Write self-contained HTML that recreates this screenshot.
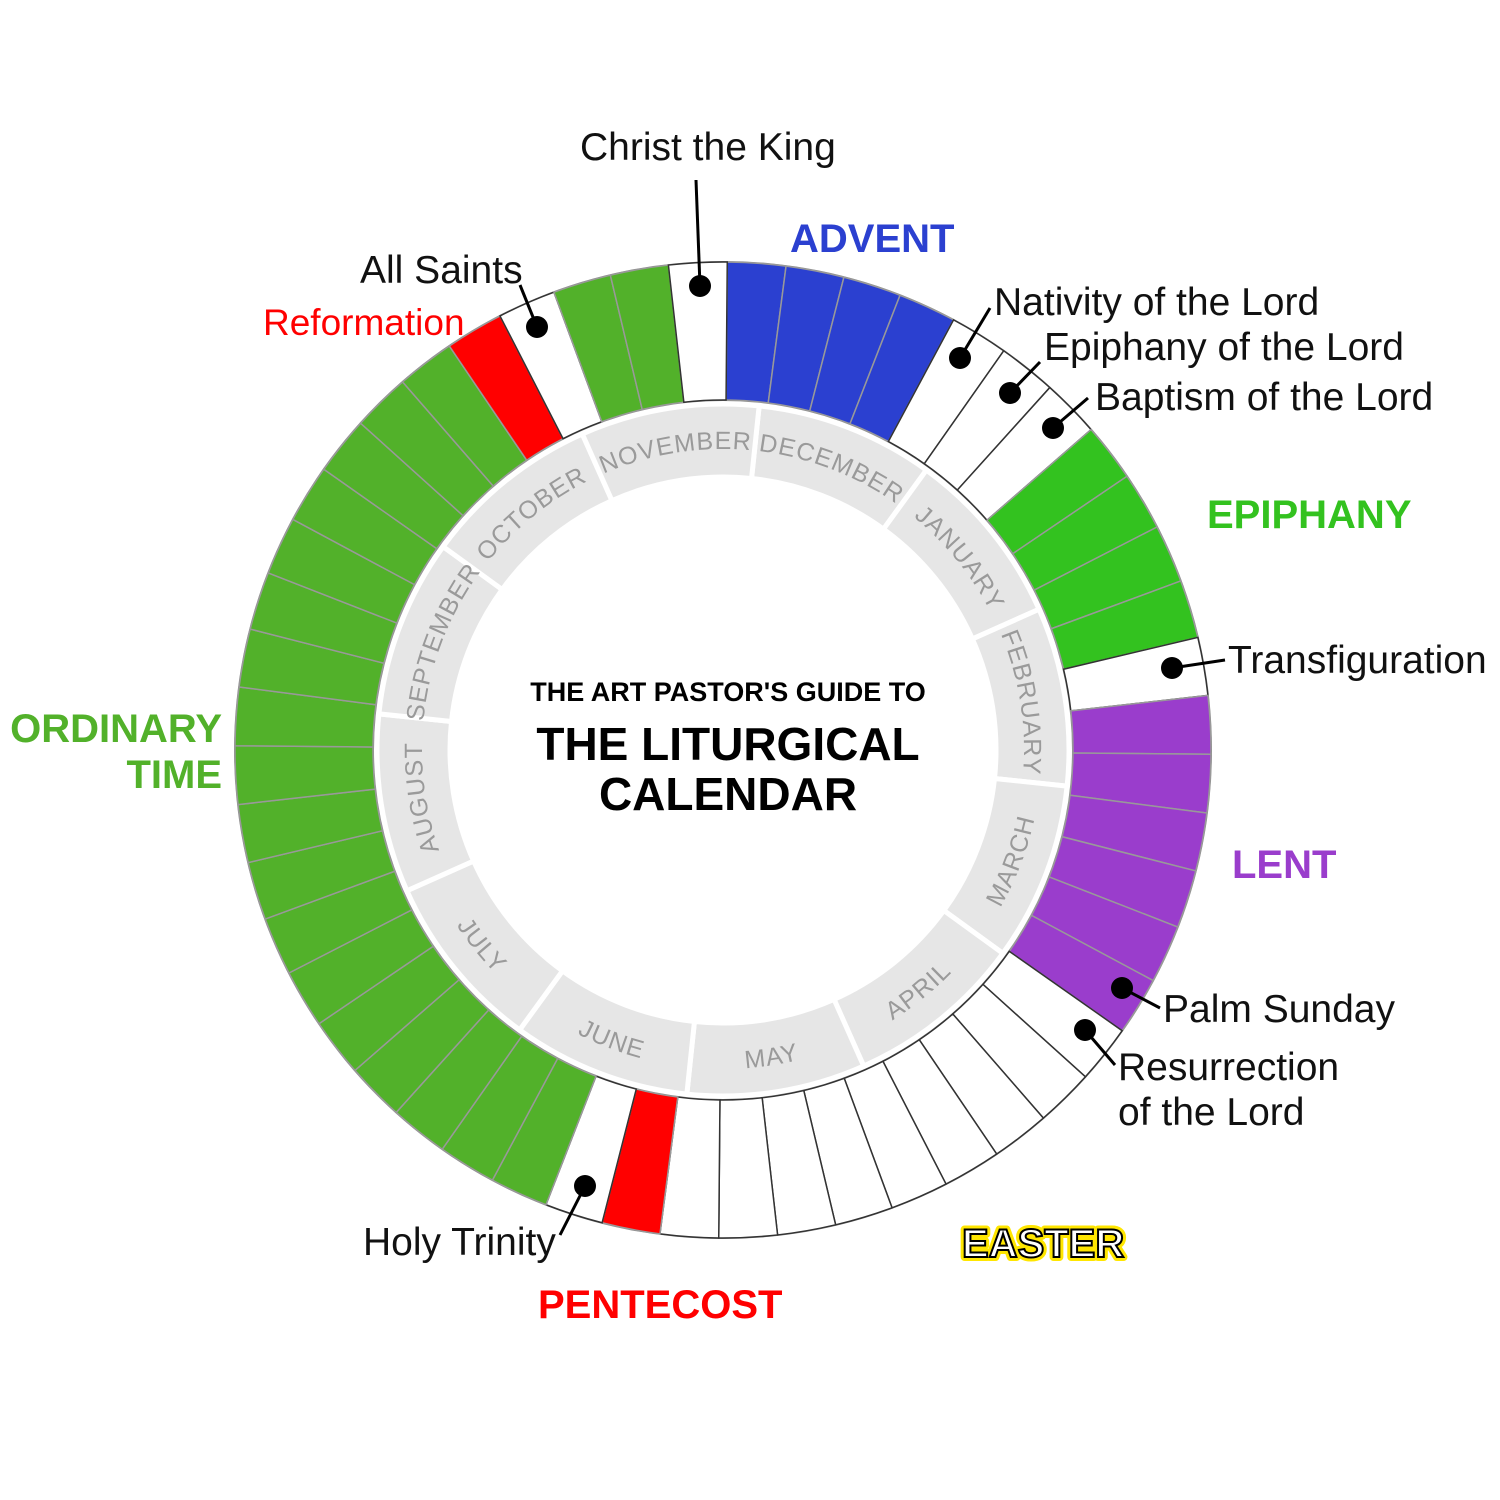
<!DOCTYPE html>
<html><head><meta charset="utf-8"><style>
html,body{margin:0;padding:0;background:#fff;}
svg{display:block;}
.lbl{font-family:"Liberation Sans",sans-serif;font-size:39px;fill:#111;}
.big{font-family:"Liberation Sans",sans-serif;font-size:40px;font-weight:bold;}
.mon{font-family:"Liberation Sans",sans-serif;font-size:25px;fill:#9a9a9a;letter-spacing:1px;}
.ttl{font-family:"Liberation Sans",sans-serif;font-weight:bold;fill:#000;text-anchor:middle;}
</style></head><body>
<svg id="s" width="1500" height="1500" viewBox="0 0 1500 1500" xmlns="http://www.w3.org/2000/svg">
<defs id="defs"></defs>
<g id="ring"></g>
<g id="months"></g>
<text class="mon"><textPath href="#m0" startOffset="50%" text-anchor="middle">NOVEMBER</textPath></text>
<text class="mon"><textPath href="#m1" startOffset="50%" text-anchor="middle">DECEMBER</textPath></text>
<text class="mon"><textPath href="#m2" startOffset="50%" text-anchor="middle">JANUARY</textPath></text>
<text class="mon"><textPath href="#m3" startOffset="50%" text-anchor="middle">FEBRUARY</textPath></text>
<text class="mon"><textPath href="#m4" startOffset="50%" text-anchor="middle">MARCH</textPath></text>
<text class="mon"><textPath href="#m5" startOffset="50%" text-anchor="middle">APRIL</textPath></text>
<text class="mon"><textPath href="#m6" startOffset="50%" text-anchor="middle">MAY</textPath></text>
<text class="mon"><textPath href="#m7" startOffset="50%" text-anchor="middle">JUNE</textPath></text>
<text class="mon"><textPath href="#m8" startOffset="50%" text-anchor="middle">JULY</textPath></text>
<text class="mon"><textPath href="#m9" startOffset="50%" text-anchor="middle">AUGUST</textPath></text>
<text class="mon"><textPath href="#m10" startOffset="50%" text-anchor="middle">SEPTEMBER</textPath></text>
<text class="mon"><textPath href="#m11" startOffset="50%" text-anchor="middle">OCTOBER</textPath></text>

<text class="ttl" x="728" y="701" font-size="27">THE ART PASTOR'S GUIDE TO</text>
<text class="ttl" x="728" y="760" font-size="46">THE LITURGICAL</text>
<text class="ttl" x="728" y="810" font-size="46">CALENDAR</text>

<g stroke="#000" stroke-width="3" fill="none">
<line x1="696" y1="180" x2="700" y2="286"/>
<line x1="990" y1="308" x2="960" y2="358"/>
<line x1="1040" y1="362" x2="1010" y2="393"/>
<line x1="1088" y1="398" x2="1053" y2="428"/>
<line x1="1225" y1="660" x2="1172" y2="668"/>
<line x1="1160" y1="1008" x2="1122" y2="988"/>
<line x1="1115" y1="1065" x2="1085" y2="1030"/>
<line x1="560" y1="1235" x2="585" y2="1186"/>
<line x1="520" y1="285" x2="537" y2="327"/>
</g>
<g fill="#000">
<circle cx="700" cy="286" r="11"/><circle cx="960" cy="358" r="11"/><circle cx="1010" cy="393" r="11"/>
<circle cx="1053" cy="428" r="11"/><circle cx="1172" cy="668" r="11"/><circle cx="1122" cy="988" r="11"/>
<circle cx="1085" cy="1030" r="11"/><circle cx="585" cy="1186" r="11"/><circle cx="537" cy="327" r="11"/>
</g>
<text class="lbl" x="580" y="160">Christ the King</text>
<text class="big" x="790" y="252" fill="#2b40d0">ADVENT</text>
<text class="lbl" x="994" y="315">Nativity of the Lord</text>
<text class="lbl" x="1044" y="360">Epiphany of the Lord</text>
<text class="lbl" x="1095" y="410">Baptism of the Lord</text>
<text class="big" x="1207" y="528" fill="#33c21f">EPIPHANY</text>
<text class="lbl" x="1228" y="673">Transfiguration</text>
<text class="big" x="1232" y="878" fill="#9a3dcc">LENT</text>
<text class="lbl" x="1163" y="1022">Palm Sunday</text>
<text class="lbl" x="1118" y="1080">Resurrection</text>
<text class="lbl" x="1118" y="1125">of the Lord</text>
<text class="big" x="962" y="1257" fill="#fff" stroke="#ffe600" stroke-width="8" stroke-linejoin="round" font-size="38">EASTER</text>
<text class="big" x="962" y="1257" fill="#fff" stroke="#000" stroke-width="2" font-size="38">EASTER</text>
<text class="big" x="538" y="1318" fill="#ff0000">PENTECOST</text>
<text class="lbl" x="363" y="1255">Holy Trinity</text>
<text class="big" x="222" y="742" fill="#52b12a" text-anchor="end">ORDINARY</text>
<text class="big" x="222" y="788" fill="#52b12a" text-anchor="end">TIME</text>
<text class="lbl" x="360" y="283">All Saints</text>
<text class="lbl" x="263" y="335" style="fill:#ff0000;font-size:37px">Reformation</text>
</svg>
<script>
(function(){
var cx=723,cy=750,R1=350,R2=488,n=52,step=360/n,off=0.5;
function pt(r,a){a=a*Math.PI/180;return [cx+r*Math.sin(a),cy-r*Math.cos(a)];}
function seg(r1,r2,a1,a2){var p1=pt(r2,a1),p2=pt(r2,a2),p3=pt(r1,a2),p4=pt(r1,a1);
return "M"+p1+" A"+r2+","+r2+" 0 0,1 "+p2+" L"+p3+" A"+r1+","+r1+" 0 0,0 "+p4+"Z";}
var cols=[];
for(var i=0;i<n;i++){var c="#52b12a";
if(i<=3)c="#2b40d0";else if(i<=6)c="#fff";else if(i<=10)c="#33c21f";else if(i==11)c="#fff";
else if(i<=17)c="#9a3dcc";else if(i<=26)c="#fff";else if(i==27)c="#ff0000";else if(i==28)c="#fff";
else if(i<=46)c="#52b12a";else if(i==47)c="#ff0000";else if(i==48)c="#fff";else if(i<=50)c="#52b12a";else c="#fff";
cols.push(c);}
var h='<circle cx="'+cx+'" cy="'+cy+'" r="'+(R2+1)+'" fill="#888"/>';
for(var i=0;i<n;i++){var a1=off+i*step,a2=a1+step;
h+='<path d="'+seg(R1,R2,a1,a2)+'" fill="'+cols[i]+'" stroke="'+(cols[i]=="#fff"?"#333":"#999")+'" stroke-width="1.5"/>';}
h+='<circle cx="'+cx+'" cy="'+cy+'" r="'+(R1-1)+'" fill="#fff"/>';
document.getElementById('ring').innerHTML=h;
var m='',d='';
for(var k=0;k<12;k++){var a1=6+30*k,a2=a1+30;
m+='<path d="'+seg(273,346,a1,a2)+'" fill="#e6e6e6" stroke="#fff" stroke-width="5"/>';}
for(var k=0;k<12;k++){var c=-9+30*k;var a1=c-25,a2=c+25;
if(k>=4&&k<=8){var r=319;var p1=pt(r,a2),p2=pt(r,a1);
d+='<path id="m'+k+'" d="M'+p1+' A'+r+','+r+' 0 0,0 '+p2+'" fill="none"/>';}
else{var r=301;var p1=pt(r,a1),p2=pt(r,a2);
d+='<path id="m'+k+'" d="M'+p1+' A'+r+','+r+' 0 0,1 '+p2+'" fill="none"/>';}}
document.getElementById('months').innerHTML=m;
document.getElementById('defs').innerHTML=d;
})();
</script>
</body></html>
